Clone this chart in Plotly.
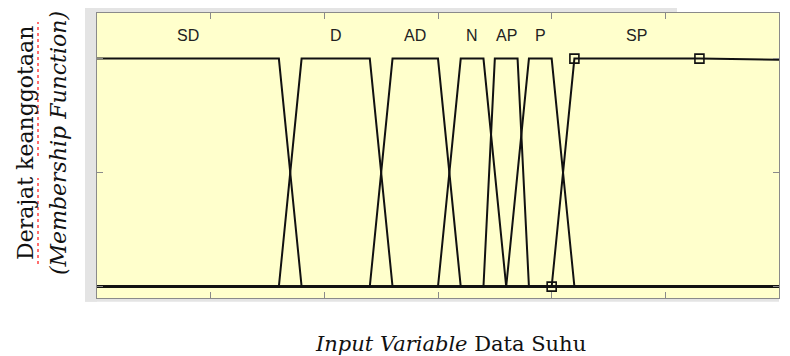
import plotly.graph_objects as go

# ---- data ----
X_MIN, X_MAX = 0, 60
Y_MIN, Y_MAX = -0.05, 1.2
mf_names = ["SD", "D", "AD", "N", "AP", "P", "SP"]
mf_a = [-10, 16, 24, 30, 34, 36, 40]
mf_b = [-5, 18, 26, 32, 35, 38, 42]
mf_c = [16, 24, 30, 34, 37, 40, 53]
mf_d = [18, 26, 32, 36, 38, 42, 1500]
selected_mf = "SP"
x_ticks = [10, 20, 30, 40, 50]
y_ticks = [0, 0.5, 1]

# ---- layout geometry (pixels) ----
OFF = 8                      # page body margin offset
W, H = 790 - OFF, 356 - OFF
L, R, T, B = 89, 11, 5, 58
PW, PH = W - L - R, H - T - B


def px_x(px):
    """screen pixel x -> paper coordinate"""
    return (px - OFF - L) / PW


def px_y(py):
    """screen pixel y -> paper coordinate"""
    return (T + PH - (py - OFF)) / PH


def trap(x, a, b, c, d):
    return max(min((x - a) / (b - a), 1.0, (d - x) / (d - c)), 0.0)


fig = go.Figure()
LINE = dict(color="#111111", width=2)

for name, a, b, c, d in zip(mf_names, mf_a, mf_b, mf_c, mf_d):
    xs = [X_MIN] + [p for p in (a, b, c, d) if X_MIN < p < X_MAX] + [X_MAX]
    ys = [trap(x, a, b, c, d) for x in xs]
    fig.add_trace(go.Scatter(x=xs, y=ys, mode="lines", line=LINE,
                             hoverinfo="skip", showlegend=False))
    lx = (max(b, X_MIN) + min(c, X_MAX)) / 2
    fig.add_annotation(x=lx, y=1.1, xref="x", yref="y", text=name,
                       showarrow=False,
                       font=dict(family="Liberation Sans, Arial", size=16,
                                 color="#222222"))
    if name == selected_mf:
        mx = [p for p in (a, b, c, d) if X_MIN <= p <= X_MAX]
        my = [trap(x, a, b, c, d) for x in mx]
        fig.add_trace(go.Scatter(x=mx, y=my, mode="markers",
                                 marker=dict(symbol="square-open", size=9,
                                             color="#111111",
                                             line=dict(width=1.6, color="#111111")),
                                 hoverinfo="skip", showlegend=False))

GRAY = "#e4e4e4"
shapes = [
    # MATLAB figure frame
    dict(type="rect", xref="paper", yref="paper", layer="below",
         x0=px_x(85), x1=px_x(97), y0=px_y(301.7), y1=px_y(6.7),
         fillcolor=GRAY, line=dict(width=0)),
    dict(type="rect", xref="paper", yref="paper", layer="below",
         x0=px_x(85), x1=px_x(677), y0=px_y(13), y1=px_y(6.7),
         fillcolor=GRAY, line=dict(width=0)),
    dict(type="rect", xref="paper", yref="paper", layer="below",
         x0=px_x(85), x1=px_x(779), y0=px_y(301.7), y1=px_y(298),
         fillcolor=GRAY, line=dict(width=0)),
    # spell-check squiggles
    dict(type="line", xref="paper", yref="paper",
         x0=px_x(38), x1=px_x(38), y0=px_y(156), y1=px_y(22),
         line=dict(color="#ff4040", width=1.5, dash="dot")),
    dict(type="line", xref="paper", yref="paper",
         x0=px_x(38), x1=px_x(38), y0=px_y(264), y1=px_y(178),
         line=dict(color="#ff4040", width=1.5, dash="dot")),
]

annotations = [
    dict(x=px_x(25), y=px_y(143), xref="paper", yref="paper",
         text="Derajat keanggotaan", textangle=-90, showarrow=False,
         xanchor="center", yanchor="middle",
         font=dict(family="DejaVu Serif", size=22, color="#111111")),
    dict(x=px_x(58.5), y=px_y(143.5), xref="paper", yref="paper",
         text="<i>(Membership Function)</i>", textangle=-90, showarrow=False,
         xanchor="center", yanchor="middle",
         font=dict(family="DejaVu Serif", size=22, color="#111111")),
    dict(x=px_x(450), y=px_y(344), xref="paper", yref="paper",
         text="<i>Input Variable</i> Data Suhu", showarrow=False,
         xanchor="center", yanchor="middle",
         font=dict(family="DejaVu Serif", size=21, color="#111111")),
]

for ann in annotations:
    fig.add_annotation(**ann)

AX = dict(showgrid=False, zeroline=False, showticklabels=False,
          ticks="inside", ticklen=6, tickcolor="#8a8a8a", tickwidth=1,
          showline=True, linecolor="#8a8a8a", linewidth=1, mirror="ticks")

fig.update_layout(
    width=W, height=H,
    margin=dict(l=L, r=R, t=T, b=B, pad=0),
    plot_bgcolor="#ffffcc", paper_bgcolor="white",
    xaxis=dict(range=[X_MIN, X_MAX], tickvals=x_ticks, **AX),
    yaxis=dict(range=[Y_MIN, Y_MAX], tickvals=y_ticks, **AX),
    shapes=shapes,
    showlegend=False,
)

fig.write_html("out.html")
